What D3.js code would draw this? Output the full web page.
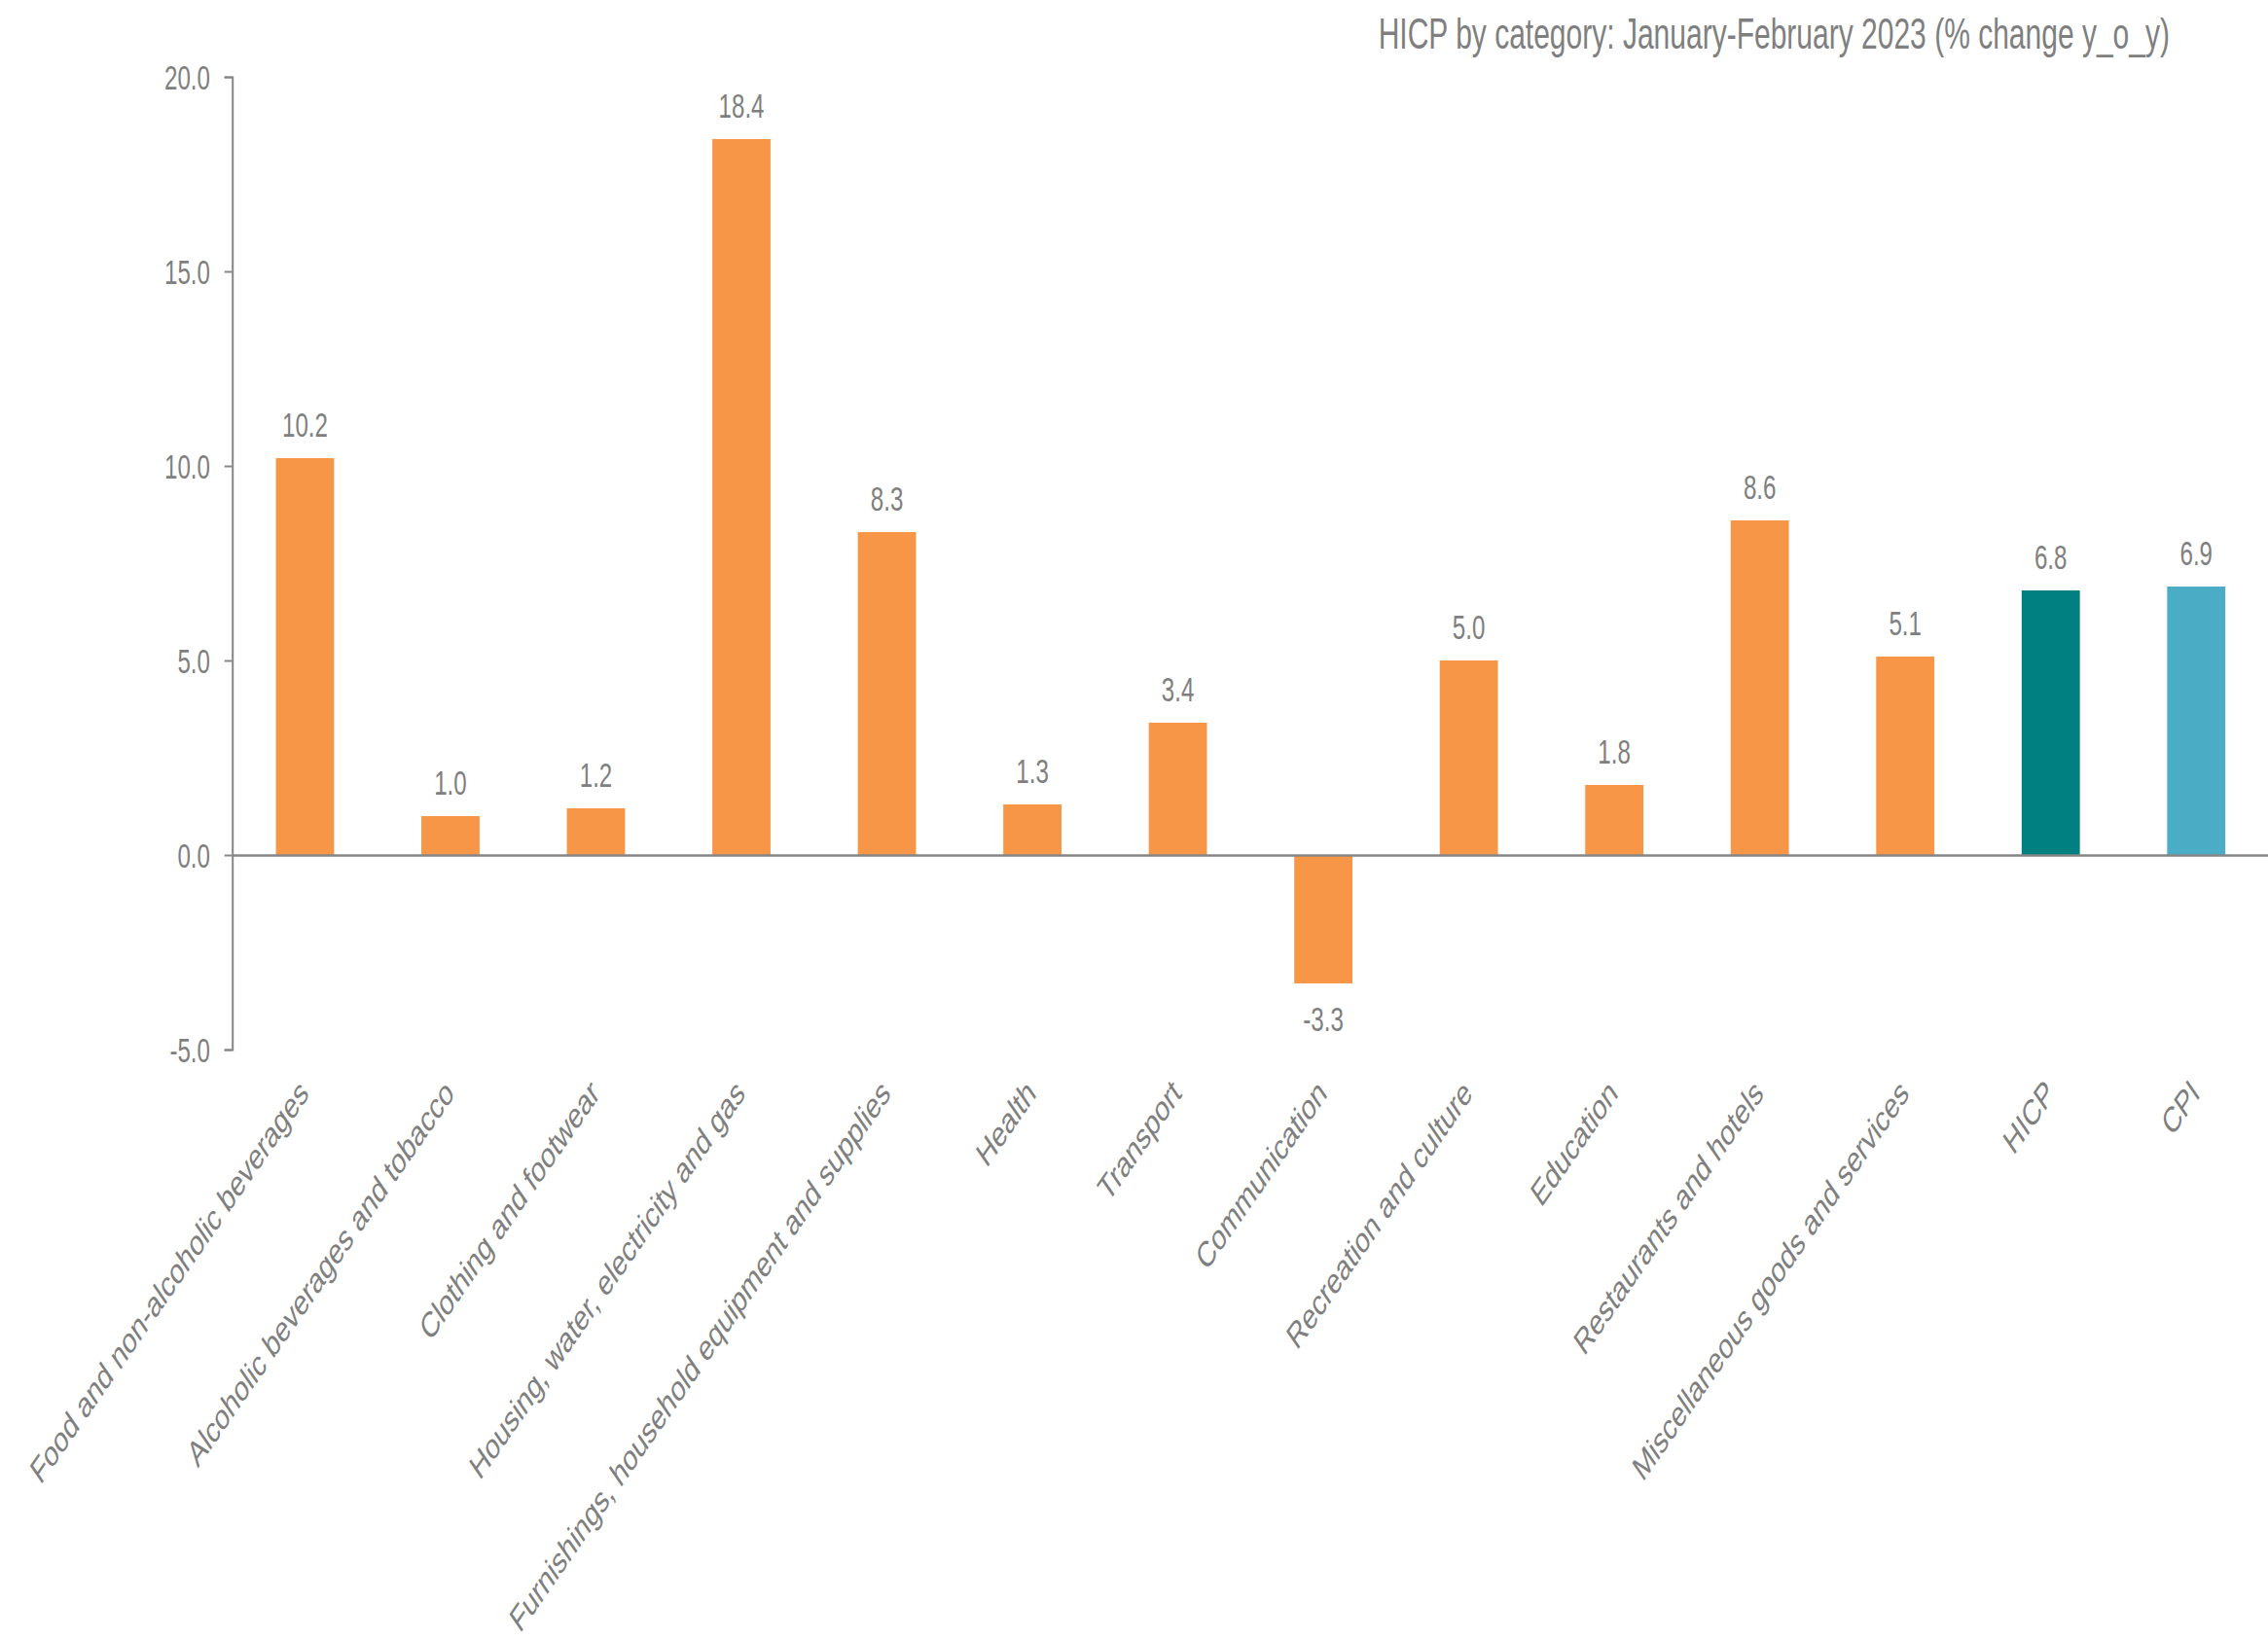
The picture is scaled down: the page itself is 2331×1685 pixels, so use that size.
<!DOCTYPE html>
<html>
<head>
<meta charset="utf-8">
<script src="https://cdn.jsdelivr.net/npm/d3@7"></script>
<style>
  html, body { margin: 0; padding: 0; background: #ffffff; }
  svg { display: block; }
  text { font-family: "Liberation Sans", Arial, sans-serif; fill: #7f7f7f; }
</style>
</head>
<body>
<svg id="chart" width="2331" height="1685"></svg>
<script>
const categories = [
  "Food and non-alcoholic beverages",
  "Alcoholic beverages and tobacco",
  "Clothing and footwear",
  "Housing, water, electricity and gas",
  "Furnishings, household equipment and supplies",
  "Health",
  "Transport",
  "Communication",
  "Recreation and culture",
  "Education",
  "Restaurants and hotels",
  "Miscellaneous goods and services",
  "HICP",
  "CPI"
];
const values = [10.2, 1.0, 1.2, 18.4, 8.3, 1.3, 3.4, -3.3, 5.0, 1.8, 8.6, 5.1, 6.8, 6.9];
const barColors = ["#f79646","#f79646","#f79646","#f79646","#f79646","#f79646","#f79646",
                   "#f79646","#f79646","#f79646","#f79646","#f79646","#008080","#4bacc6"];
const yTicks = [-5, 0, 5, 10, 15, 20];
const title = "HICP by category: January-February 2023 (% change y_o_y)";

const K = 0.69; // horizontal text compression
const fmt = d => d3.format(".1f")(d).replace("\u2212", "-");
const svg = d3.select("#chart");

const axisX0 = 238.7;
const x = d3.scaleBand()
  .domain(categories)
  .range([axisX0, 2332])
  .paddingInner(0.6)
  .paddingOuter(0.3);

const y = d3.scaleLinear().domain([-5, 20]).range([1079, 79]);

// Title
svg.append("text")
  .attr("transform", `translate(2230,50) scale(${K},1)`)
  .attr("text-anchor", "end")
  .style("font-size", "43.5px")
  .text(title);

// Bars
svg.append("g").selectAll("rect")
  .data(values)
  .join("rect")
  .attr("x", (d, i) => x(categories[i]))
  .attr("width", x.bandwidth())
  .attr("y", d => y(Math.max(0, d)))
  .attr("height", d => Math.abs(y(d) - y(0)))
  .attr("fill", (d, i) => barColors[i]);

// Y axis
const yAxis = svg.append("g")
  .attr("transform", `translate(${axisX0},0)`)
  .call(d3.axisLeft(y).tickValues(yTicks).tickFormat(fmt).tickSize(8).tickSizeOuter(8));
yAxis.select(".domain").attr("stroke", "#868686").attr("stroke-width", 2);
yAxis.selectAll(".tick line").attr("stroke", "#868686").attr("stroke-width", 2);
yAxis.selectAll(".tick text")
  .attr("x", null)
  .attr("dy", null)
  .attr("transform", `translate(-22.7,12.5) scale(${K},1)`)
  .attr("text-anchor", "end")
  .style("font-size", "35px")
  .style("font-family", "Liberation Sans, Arial, sans-serif")
  .attr("fill", "#7f7f7f");

// X axis at zero
const xAxis = svg.append("g")
  .attr("transform", `translate(0,${y(0)})`)
  .call(d3.axisBottom(x).tickSize(0).tickSizeOuter(0));
xAxis.select(".domain").attr("stroke", "#868686").attr("stroke-width", 2.5);
xAxis.selectAll(".tick text")
  .attr("y", null)
  .attr("dy", null)
  .attr("transform", `translate(5,${1126 - y(0)}) scale(${K},1) rotate(-45)`)
  .attr("text-anchor", "end")
  .style("font-size", "37px")
  .style("font-family", "Liberation Sans, Arial, sans-serif")
  .attr("fill", "#7f7f7f");

// Value labels
svg.append("g").selectAll("text")
  .data(values)
  .join("text")
  .attr("transform", (d, i) => {
    const cx = x(categories[i]) + x.bandwidth() / 2;
    const ty = d >= 0 ? y(d) - 22 : y(d) + 49;
    return `translate(${cx},${ty}) scale(${K},1)`;
  })
  .attr("text-anchor", "middle")
  .style("font-size", "35px")
  .text(fmt);
</script>
</body>
</html>
